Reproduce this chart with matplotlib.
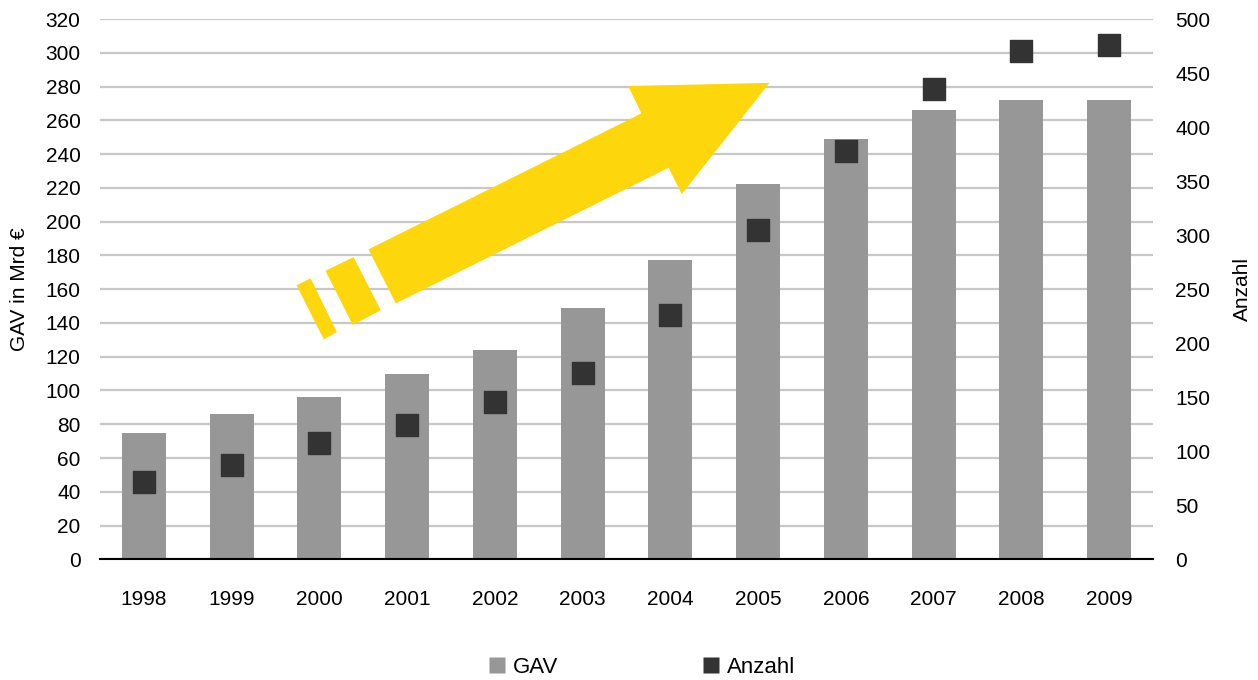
import matplotlib.pyplot as plt
from matplotlib.patches import Polygon, Patch
from matplotlib.lines import Line2D

# data
years = ['1998', '1999', '2000', '2001', '2002', '2003',
         '2004', '2005', '2006', '2007', '2008', '2009']
gav = [75, 86, 96, 110, 124, 149, 177, 222, 249, 266, 272, 272]
anzahl = [72, 87, 108, 124, 146, 172, 226, 305, 378, 435, 470, 476]
left_ticks = list(range(0, 321, 20))
right_ticks = list(range(0, 501, 50))

# yellow arrow outline (category index, GAV units)
arrow_body = [(2.56, 183.6), (5.67, 264.1), (5.52, 280.3), (7.13, 282.2),
              (6.13, 216.3), (5.98, 231.9), (2.87, 151.6)]
dash_big = [(2.07, 170.9), (2.39, 179.0), (2.70, 147.5), (2.38, 138.8)]
dash_small = [(1.74, 162.3), (1.90, 166.4), (2.20, 134.6), (2.05, 130.3)]

plt.rcParams['font.family'] = ['Liberation Sans Narrow', 'Liberation Sans', 'DejaVu Sans']

fig = plt.figure(figsize=(12.58, 6.8), dpi=100)
ax = fig.add_axes([0.0795, 0.1775, 0.837, 0.7945])
ax2 = ax.twinx()

x = list(range(len(years)))
bar_color = '#979797'
sq_color = '#333333'
yellow = '#FDD60C'

ax.bar(x, gav, width=0.5, color=bar_color, zorder=2)
ax.set_xlim(-0.5, len(years) - 0.5)
ax.set_ylim(0, 320)
ax.set_yticks(left_ticks)
ax.set_xticks(x)
ax.set_xticklabels(years)
ax.grid(axis='y', color='#c8c8c8', linewidth=1.6, zorder=0)
ax.set_axisbelow(True)
ax.tick_params(axis='both', length=0, labelsize=15)
ax.tick_params(axis='y', pad=14)
ax.tick_params(axis='x', pad=22)
for s in ['top', 'right', 'left']:
    ax.spines[s].set_visible(False)
ax.spines['bottom'].set_color('black')
ax.spines['bottom'].set_linewidth(1.5)
ax.spines['bottom'].set_zorder(5)
ax.set_ylabel('GAV in Mrd €', fontsize=15, labelpad=12)

# arrow pieces
for pts in [arrow_body, dash_big, dash_small]:
    ax.add_patch(Polygon(pts, closed=True, facecolor=yellow, edgecolor='none', zorder=3))

ax2.scatter(x, anzahl, marker='s', s=230, color=sq_color, zorder=4)
ax2.set_ylim(0, 500)
ax2.set_yticks(right_ticks)
ax2.tick_params(axis='y', length=0, labelsize=15, pad=16)
for s in ['top', 'right', 'left', 'bottom']:
    ax2.spines[s].set_visible(False)
ax2.set_ylabel('Anzahl', fontsize=15, labelpad=16)

# legend
handles = [Line2D([], [], linestyle='none', marker='s', markersize=12,
                  markerfacecolor=bar_color, markeredgecolor='none'),
           Line2D([], [], linestyle='none', marker='s', markersize=12,
                  markerfacecolor=sq_color, markeredgecolor='none')]
fig.legend(handles, ['GAV', 'Anzahl'], loc='center', bbox_to_anchor=(0.51, 0.018),
           ncol=2, frameon=False, fontsize=16, columnspacing=6.5,
           handlelength=0.8, handletextpad=0.3)

fig.savefig('out.png', dpi=100)
